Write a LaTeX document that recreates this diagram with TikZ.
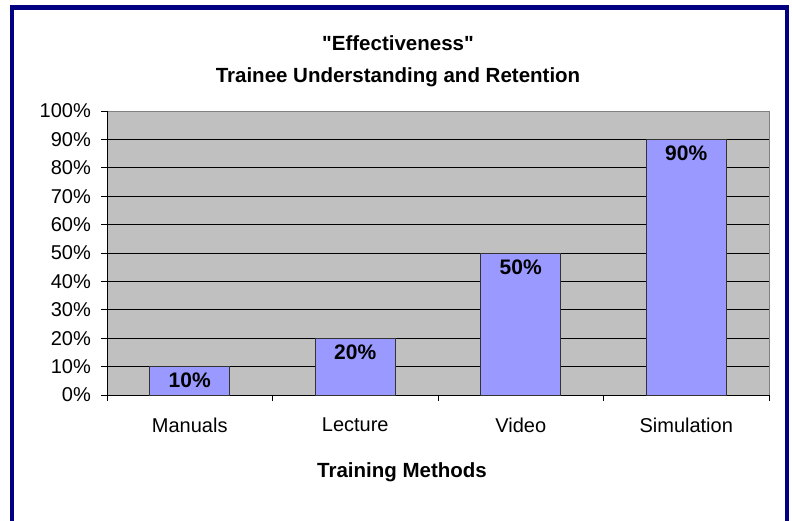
\documentclass[tikz,border=0pt]{standalone}
\usepackage{fontspec}
\setmainfont{Liberation Sans}
\usepackage{tikz}
\usetikzlibrary{positioning}
\definecolor{colorframe}{RGB}{0,0,128}
\definecolor{colorplot} {RGB}{192,192,192}
\definecolor{colorbar}  {RGB}{153,153,255}
\definecolor{colorgrey} {RGB}{128,128,128}

\begin{document}
\begin{tikzpicture}[
    x=1pt, y=-1pt,
    title/.style={font={\fontsize{20.5}{22}\selectfont\bfseries},inner sep=0pt},
    ticklabel/.style={font={\fontsize{20}{22}\selectfont},inner sep=0pt,anchor=east},
    catlabel/.style={font={\fontsize{20}{22}\selectfont},inner sep=0pt},
    barlabel/.style={font={\fontsize{21}{23}\selectfont\bfseries},inner sep=0pt},
    bar/.style={fill=colorbar,draw=black!80,line width=0.8pt},
    grid/.style={black,line width=0.9pt},
]
    \useasboundingbox (0,0) rectangle (792,521);

    % Frame
    \draw[colorframe,line width=4.5pt] (12.2,540) -- (12.2,7.5) -- (787,7.5) -- (787,540);

    % Titles
    \node[title] (title1) at (398,43) {\textquotedbl Effectiveness\textquotedbl};
    \node[title] (title2) at (398,77) {Trainee Understanding and Retention};

    % Plot area
    \fill[colorplot] (107,111) rectangle (769,395);
    \foreach \v in {1,...,9}
        \draw[grid] (101,395-28.4*\v) -- (769,395-28.4*\v);
    \draw[colorgrey,line width=0.9pt] (107,111) -- (769,111) -- (769,395);
    \draw[grid] (101,111) -- (107,111);

    % Axes
    \draw[grid] (107,111) -- (107,395) -- (769,395);
    \draw[grid] (101,395) -- (107,395);
    \foreach \x in {107,272.5,438,603.5,769}
        \draw[grid] (\x,395) -- (\x,401);

    % Tick labels
    \foreach \v in {0,...,10}
        \node[ticklabel] (tick\v) at (91,395-28.4*\v) {\the\numexpr\v*10\relax\%};

    % Bars
    \draw[bar] (149.75,395) rectangle (229.75,366.6);
    \draw[bar] (315.25,395) rectangle (395.25,338.2);
    \draw[bar] (480.75,395) rectangle (560.75,253);
    \draw[bar] (646.25,395) rectangle (726.25,139.4);

    \node[barlabel] (manualsval)    at (189.75,380) {10\%};
    \node[barlabel] (lectureval)    at (355.25,352) {20\%};
    \node[barlabel] (videoval)      at (520.75,267) {50\%};
    \node[barlabel] (simulationval) at (686.25,153) {90\%};

    % Categories
    \node[catlabel] (manuals)    at (189.75,425) {Manuals};
    \node[catlabel] (lecture)    at (355.25,425) {Lecture};
    \node[catlabel] (video)      at (520.75,425) {Video};
    \node[catlabel] (simulation) at (686.25,425) {Simulation};

    \node[title] (xtitle) at (402,472) {Training Methods};

\end{tikzpicture}
\end{document}
